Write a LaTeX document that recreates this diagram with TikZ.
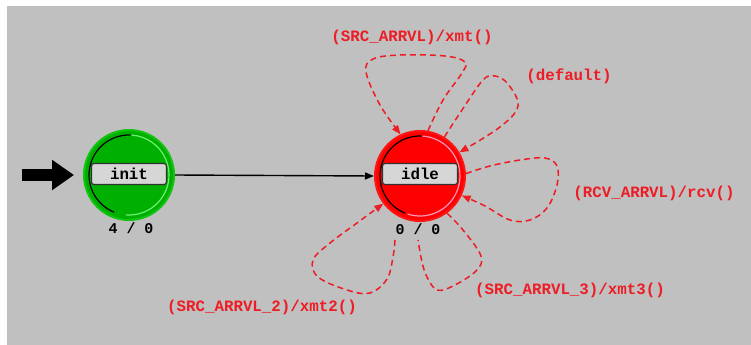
\documentclass[tikz,border=0pt]{standalone}
\usepackage{fontspec}
\newfontfamily\statefont{Liberation Mono}
\usetikzlibrary{arrows.meta}

% one drawing unit
\newlength\pxu
\setlength\pxu{0.02cm}

\definecolor{canvasgray}{RGB}{192,192,192}
\definecolor{stgreen}{RGB}{0,176,0}
\definecolor{stgreenrim}{RGB}{16,196,16}
\definecolor{stgreenlite}{RGB}{110,240,110}
\definecolor{stred}{RGB}{255,0,0}
\definecolor{stredrim}{RGB}{255,20,20}
\definecolor{stpink}{RGB}{255,150,190}
\definecolor{trred}{RGB}{238,28,36}
\definecolor{boxfill}{RGB}{214,214,214}
\definecolor{boxedge}{RGB}{50,50,50}

\tikzset{
  statedisc/.style={circle, inner sep=0pt, line width=2\pxu, minimum size=90\pxu},
  namebox/.style={rounded corners=2.5\pxu, fill=boxfill, draw=boxedge,
    line width=1.2\pxu, minimum width=75\pxu, minimum height=21\pxu, inner sep=0pt,
    font=\statefont\bfseries\fontsize{9}{9}\selectfont, text=black},
  counts/.style={font=\statefont\bfseries\fontsize{8.5}{9}\selectfont, text=black, inner sep=0pt},
  trlabel/.style={font=\statefont\bfseries\fontsize{9}{9}\selectfont, text=trred, inner sep=0pt},
  selfloop/.style={draw=trred, line width=1.5\pxu, dash pattern=on 6\pxu off 4\pxu,
    line join=round},
  looptip/.style={-{Triangle[length=0.18cm, width=0.14cm]}},
  plaintr/.style={draw=black, line width=1.4\pxu, -{Triangle[length=0.18cm, width=0.14cm]}},
}

\begin{document}
\begin{tikzpicture}[x=0.02cm, y=-0.02cm]
  % canvas
  \useasboundingbox (0,0) rectangle (751,345);
  \fill[white] (0,0) rectangle (751,345);
  \fill[canvasgray] (7,6) rectangle (751,345);

  % states
  \node[statedisc, fill=stgreen, draw=stgreenrim] (init) at (129,175) {};
  \node[statedisc, fill=stred, draw=stredrim] (idle) at (420,176) {};

  % shaded inner rims
  \begin{scope}[shift={(init.center)}, yscale=-1]
    \draw[black, line width=1.2\pxu] (88:40) arc (88:248:40);
    \draw[stgreenlite, line width=1.2\pxu] (-95:40) arc (-95:86:40);
  \end{scope}
  \begin{scope}[shift={(idle.center)}, yscale=-1]
    \draw[black, line width=1.2\pxu] (88:40) arc (88:248:40);
    \draw[stpink, line width=1.2\pxu] (-108:40) arc (-108:86:40);
  \end{scope}

  % name boxes
  \node[namebox] (initname) at (129,174) {init};
  \node[namebox] (idlename) at (420,174) {idle};

  % counters
  \node[counts] (initcount) at (131,228) {4 / 0};
  \node[counts] (idlecount) at (418,229) {0 / 0};

  % initial-state marker
  \coordinate (entry) at (22,175);
  \draw[line width=0.24cm, -{Triangle[length=0.44cm, width=0.58cm]}, shorten >=0.18cm]
    (entry) -- (init.west);

  % init -> idle
  \draw[plaintr] (init.east) -- (idle.west);

  % self transitions of idle
  \draw[selfloop, looptip] plot[smooth, tension=0.6] coordinates {
    (idle.80) (443,100) (462,73) (465,62) (445,56) (400,55) (373,59) (366,72) (380,105) (idle.115)};
  \draw[selfloop, looptip] plot[smooth, tension=0.6] coordinates {
    (idle.58) (462,110) (483,80) (495,76) (508,84) (518,106) (500,127) (idle.31)};
  \draw[selfloop, looptip] plot[smooth, tension=0.6] coordinates {
    (idle.3) (490,166) (520,160) (545,158) (557,166) (557,185) (547,208) (530,220) (510,220) (485,206) (idle.-25)};

  \coordinate (xmtthree) at (418,240);
  \coordinate (xmttwo) at (395,240);
  \draw[selfloop] plot[smooth, tension=0.6] coordinates {
    (idle.-54) (463,230) (481,256) (476,271) (453,286) (437,290) (427,277) (422,262) (xmtthree)};
  \draw[selfloop, looptip] plot[smooth, tension=0.6] coordinates {
    (xmttwo) (393,257) (387,279) (370,293) (347,290) (318,277) (313,260) (330,243) (357,223) (idle.217)};

  % transition labels
  \node[trlabel] (lblxmt) at (412,37) {(SRC\_ARRVL)/xmt()};
  \node[trlabel] (lbldefault) at (569,76) {(default)};
  \node[trlabel] (lblrcv) at (654,193) {(RCV\_ARRVL)/rcv()};
  \node[trlabel] (lblxmt3) at (570,290) {(SRC\_ARRVL\_3)/xmt3()};
  \node[trlabel] (lblxmt2) at (262,307) {(SRC\_ARRVL\_2)/xmt2()};
\end{tikzpicture}
\end{document}
